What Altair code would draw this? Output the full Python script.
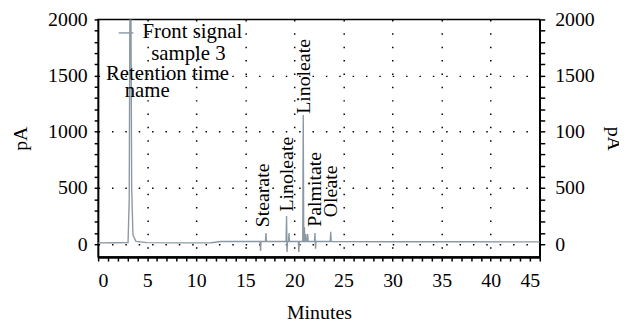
import altair as alt
import pandas as pd

# Chromatogram signal (minutes, pA)
sig_min = [0.0, 1.5, 3.05, 3.17, 3.25, 3.33, 3.42, 3.55, 3.85, 5.0, 8.0, 11.5, 12.5,
           16.5, 16.55, 16.6, 17.05, 17.1, 17.15,
           19.15, 19.2, 19.25, 19.3, 19.4, 19.45, 19.5,
           20.4, 20.45, 20.5, 20.85, 20.9, 20.95, 20.98, 21.02, 21.06,
           21.1, 21.15, 21.2, 21.3, 21.35, 21.4,
           22.05, 22.1, 22.15, 22.2, 23.65, 23.7, 23.75, 30.0, 38.0, 45.0]
sig_pA = [12, 13, 15, 400, 2400, 2400, 500, 80, 25, 14, 12, 13, 24,
          24, -60, 24, 24, 100, 24,
          24, 250, -70, 24, 24, 100, 24,
          24, -70, 24, 24, 1150, 24, 24, 150, 24,
          24, 90, 24, 24, 90, 24,
          24, 100, -40, 24, 24, 110, 24, 22, 21, 20]

# Peak labels
lab_text = ["Stearate", "Linoleate", "Linoleate", "Palmitate", "Oleate"]
lab_min = [16.85, 19.3, 21.0, 22.1, 23.7]
lab_pA = [150, 290, 1160, 155, 240]

# Legend notes
note_text = ["Front signal", "sample 3", "Retention time", "name"]
note_min = [9.6, 9.2, 7.06, 5.0]
note_pA = [1886, 1693, 1511, 1360]
key_min = [2.1, 3.6]
key_pA = [1880, 1880]

FONT = "Liberation Serif"
sig = pd.DataFrame({"t": sig_min, "v": sig_pA})
labs = pd.DataFrame({"t": lab_min, "v": lab_pA, "s": lab_text})
notes = pd.DataFrame({"t": note_min, "v": note_pA, "s": note_text})
key = pd.DataFrame({"t": key_min, "v": key_pA})

xs = alt.Scale(domain=[0, 45], nice=False, zero=False)
ys = alt.Scale(domain=[-115, 2000], nice=False, zero=False)

xvals = list(range(0, 46))
yvals = list(range(0, 2001, 100))

x_axis = alt.Axis(values=xvals, format="d", title="Minutes",
                  labelExpr="datum.value % 5 == 0 ? datum.label : ''",
                  tickSize=4, labelPadding=10, titlePadding=12,
                  grid=True,
                  gridOpacity={"condition": {"test": "datum.value % 5 == 0 && datum.value > 0 && datum.value < 45", "value": 1}, "value": 0},
                  gridDash=[1.5, 12], gridColor="black", gridWidth=1.5,
                  domainWidth=2.5, domainColor="black", tickColor="black", tickWidth=1.5)

y_axis_l = alt.Axis(values=yvals, format="d", title="pA", orient="left",
                    labelExpr="datum.value % 500 == 0 ? datum.label : ''",
                    tickSize=4, labelPadding=7, titlePadding=17,
                    grid=True,
                    gridOpacity={"condition": {"test": "datum.value % 500 == 0 && datum.value < 2000", "value": 1}, "value": 0},
                    gridDash=[1.5, 12], gridColor="black", gridWidth=1.5,
                    domainWidth=1.5, domainColor="black", tickColor="black", tickWidth=1.5)

y_axis_r = alt.Axis(values=yvals, format="d", title="pA", orient="right",
                    labelExpr="datum.value == 1000 ? '100' : (datum.value % 500 == 0 ? datum.label : '')",
                    tickSize=5, labelPadding=10, titlePadding=9, grid=False,
                    domainWidth=1.5, domainColor="black", tickColor="black", tickWidth=1.5)

X = alt.X("t:Q", scale=xs, axis=x_axis)
YL = alt.Y("v:Q", scale=ys, axis=y_axis_l)

line = alt.Chart(sig).mark_line(color="#8c99a3", strokeWidth=1.4, clip=True).encode(x=X, y=YL)

right = alt.Chart(sig).mark_line(opacity=0, clip=True).encode(
    x=X, y=alt.Y("v:Q", scale=ys, axis=y_axis_r),
)

keyline = alt.Chart(key).mark_line(color="#8c99a3", strokeWidth=1.4).encode(x=X, y=YL)

peak_text = alt.Chart(labs).mark_text(angle=270, align="left", baseline="middle",
                                      font=FONT, fontSize=20, color="black").encode(
    x=X, y=YL, text="s:N",
)

note_layer = alt.Chart(notes).mark_text(align="center", baseline="middle",
                                        font=FONT, fontSize=21, color="black").encode(
    x=X, y=YL, text="s:N",
)

left = alt.layer(line, keyline, peak_text, note_layer)

chart = alt.layer(left, right).resolve_axis(
    y="independent"
).resolve_scale(y="shared").properties(
    width=446, height=240,
    autosize=alt.AutoSizeParams(type="none"),
    padding={"left": 91, "top": 10, "right": 80, "bottom": 64},
).configure_axis(
    labelFont=FONT, titleFont=FONT, labelFontSize=20, titleFontSize=20,
    labelColor="black", titleColor="black", titleFontWeight="normal",
).configure_view(stroke="black", strokeWidth=1.5)

chart.save("out.html", embed_options={"renderer": "svg", "actions": False})
